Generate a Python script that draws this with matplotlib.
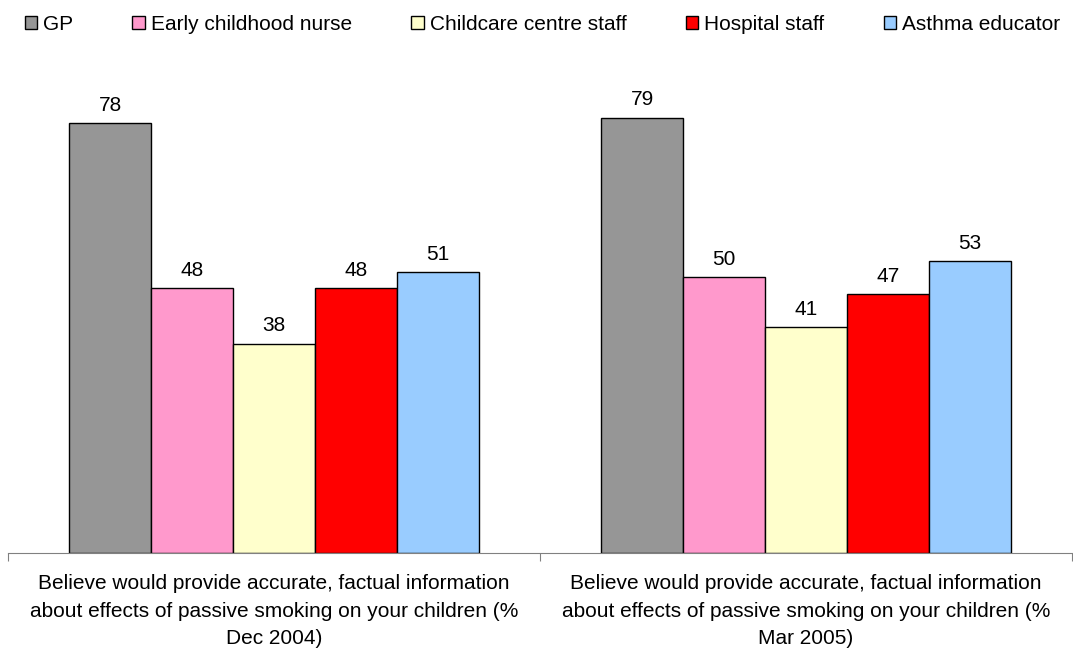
import matplotlib
matplotlib.use("Agg")
import matplotlib.pyplot as plt
import numpy as np

plt.rcParams['font.family'] = ['Liberation Sans', 'DejaVu Sans']

categories = [
    "Believe would provide accurate, factual information\nabout effects of passive smoking on your children (%\nDec 2004)",
    "Believe would provide accurate, factual information\nabout effects of passive smoking on your children (%\nMar 2005)",
]
series = ["GP", "Early childhood nurse", "Childcare centre staff", "Hospital staff", "Asthma educator"]
values = {
    "GP": [78, 79],
    "Early childhood nurse": [48, 50],
    "Childcare centre staff": [38, 41],
    "Hospital staff": [48, 47],
    "Asthma educator": [51, 53],
}
colors = ["#969696", "#FF99CC", "#FFFFCC", "#FF0000", "#99CCFF"]

fig = plt.figure(figsize=(10.73, 6.51), dpi=100)
ax = fig.add_axes([8 / 1073, 98 / 651, 1064 / 1073, 496 / 651])

x = np.arange(len(categories))
width = 0.154
handles = []
for i, (name, col) in enumerate(zip(series, colors)):
    pos = x + (i - 2) * width
    b = ax.bar(pos, values[name], width=width, color=col, edgecolor="black", linewidth=1, label=name)
    handles.append(b)
    for px, v in zip(pos, values[name]):
        ax.text(px, v + 1.5, str(v), ha="center", va="bottom", fontsize=15)

ax.set_xlim(-0.5, 1.5)
ax.set_ylim(0, 90)
ax.set_yticks([])
for s in ["left", "right", "top"]:
    ax.spines[s].set_visible(False)
ax.spines["bottom"].set_color("#808080")

ax.set_xticks([-0.5, 0.5, 1.5])
ax.set_xticklabels(["", "", ""])
ax.tick_params(axis="x", which="major", length=6, color="#808080", direction="out")
ax.set_xticks(x, minor=True)
ax.set_xticklabels(categories, minor=True, fontsize=15, linespacing=1.58)
ax.tick_params(axis="x", which="minor", length=0, pad=15)

fig.legend(handles=handles, labels=series, loc="upper center", bbox_to_anchor=(0.5056, 1.0),
           ncol=5, frameon=False, fontsize=15, handlelength=0.6, handleheight=0.6,
           handletextpad=0.3, columnspacing=2.83, borderaxespad=0.3)

fig.savefig("out.png", dpi=100)
